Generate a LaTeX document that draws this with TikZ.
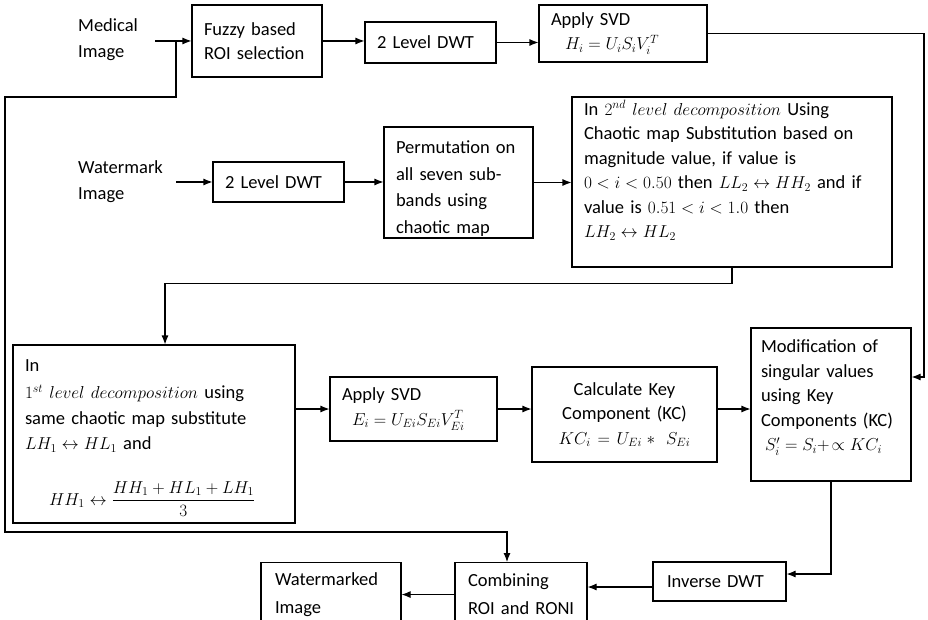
\documentclass[tikz,border=0pt]{standalone}
\usepackage{amsmath}
\usepackage{amssymb}
\usepackage{fontspec}
\setmainfont{Carlito}
\usetikzlibrary{arrows.meta}

\begin{document}
\begin{tikzpicture}[x=1pt,y=-1pt,
  blk/.style={draw, line width=1.1pt, align=left, inner xsep=12pt, inner ysep=0pt, font=\fontsize{18.5}{24.5}\selectfont},
  lbl/.style={align=left, inner xsep=0pt, font=\fontsize{18.5}{26}\selectfont},
  arr/.style={line width=1.1pt, -{Latex[length=9pt,width=7pt]}},
  wire/.style={line width=1.1pt}]
\useasboundingbox (0,0) rectangle (928,620);
\clip (0,0) rectangle (928,620);
\node[lbl, anchor=west, text width=77pt] (med) at (78,40) {Medical\\Image};
\node[lbl, anchor=west, text width=98pt] (wm) at (78,182) {Watermark\\Image};
\node[blk, minimum width=130pt, minimum height=72pt, text width=106pt] (fuzzy) at (257,41) {Fuzzy based\\ROI selection};
\node[blk, minimum width=131pt, minimum height=41pt, text width=107pt] (dwtA) at (430.5,42.5) {2 Level DWT};
\node[blk, minimum width=168pt, minimum height=57pt, text width=144pt] (svdA) at (623,33.5) {Apply SVD\\\hspace*{14pt}$H_i=U_iS_iV_i^T$};
\node[blk, minimum width=131pt, minimum height=40pt, text width=107pt] (dwtB) at (278.5,182) {2 Level DWT};
\node[blk, minimum width=149pt, minimum height=111pt, text width=125pt, font=\fontsize{18.5}{26.5}\selectfont] (perm) at (458.5,182.5) {\strut\\[-20pt]\mbox{Permutation on}\\all seven sub-\\bands using\\chaotic map};
\node[blk, minimum width=320pt, minimum height=170pt, text width=296pt] (lvlB) at (732,182) {\mbox{In $2^{nd}$ $level\ decomposition$ Using}\\Chaotic map Substitution based on\\magnitude value, if value is\\\mbox{$0<i<0.50$ then $LL_2\leftrightarrow HH_2$ and if}\\value is $0.51<i<1.0$ then\\$LH_2\leftrightarrow HL_2$\\[-6pt]\strut};
\node[blk, minimum width=282pt, minimum height=178pt, text width=258pt, font=\fontsize{18.5}{25.5}\selectfont] (lvlA) at (154,434) {\strut\\[-23pt]In\\[2pt]\mbox{$1^{st}$ $level\ decomposition$ using}\\same chaotic map substitute\\$LH_1\leftrightarrow HL_1$ and\\[28pt]\hspace*{24pt}$HH_1\leftrightarrow\dfrac{HH_1+HL_1+LH_1}{3}$};
\node[blk, minimum width=167pt, minimum height=64pt, text width=143pt] (svdB) at (413.5,409) {Apply SVD\\\hspace*{10pt}$E_i=U_{Ei}S_{Ei}V_{Ei}^T$};
\node[blk, align=center, minimum width=185pt, minimum height=95pt, text width=161pt] (kc) at (624.5,414.5) {Calculate Key\\Component (KC)\\$KC_i=U_{Ei}*\ S_{Ei}$};
\node[blk, minimum width=160pt, minimum height=153pt, text width=140pt, inner xsep=10pt] (mod) at (831,404.5) {Modification of\\singular values\\using Key\\\mbox{Components (KC)}\\\hspace*{4pt}$S_i'=S_i+\!\propto KC_i$\\[-14pt]\strut};
\node[blk, minimum width=133pt, minimum height=39pt, text width=105pt, inner xsep=14pt] (inv) at (719.5,581.5) {\mbox{Inverse DWT}};
\node[blk, anchor=north, minimum width=132pt, minimum height=64pt, text width=106pt, inner xsep=13pt, inner ysep=5pt, font=\fontsize{18.5}{28}\selectfont] (comb) at (521,562) {Combining\\\mbox{ROI and RONI}};
\node[blk, anchor=north, minimum width=140pt, minimum height=64pt, text width=112pt, inner xsep=14pt, inner ysep=5pt, font=\fontsize{18.5}{28}\selectfont] (wmk) at (331,562) {\mbox{Watermarked}\\Image};
\coordinate (fb) at (176,41);
\draw[arr] (fuzzy.west -| 155,0) -- (fuzzy.west);
\draw[arr] (fuzzy.east) -- (fuzzy.east -| dwtA.west);
\draw[arr] (dwtA.east) -- (dwtA.east -| svdA.west);
\draw[arr] (svdA.east) -- (924,33.5) |- ([yshift=27.5pt]mod.east);
\draw[arr] (fb) |- (5,97) -- (5,532) -| ([xshift=-14pt]comb.north);
\draw[arr] (dwtB.west -| 176,0) -- (dwtB.west);
\draw[arr] (dwtB.east) -- (dwtB.east -| perm.west);
\draw[arr] (perm.east) -- (perm.east -| lvlB.west);
\draw[arr] (lvlB.south) -- ++(0,16) -| ([xshift=11pt]lvlA.north);
\draw[arr] (svdB.west -| lvlA.east) -- (svdB.west);
\draw[arr] (svdB.east) -- (svdB.east -| kc.west);
\draw[arr] (svdB.east -| kc.east) -- (svdB.east -| mod.west);
\draw[arr] (mod.south) |- ([yshift=7.5pt]inv.east);
\draw[arr] ([yshift=-5.5pt]inv.west) -- ([yshift=-5.5pt]inv.west -| comb.east);
\draw[arr] (comb.west) -- (comb.west -| wmk.east);
\end{tikzpicture}
\end{document}
